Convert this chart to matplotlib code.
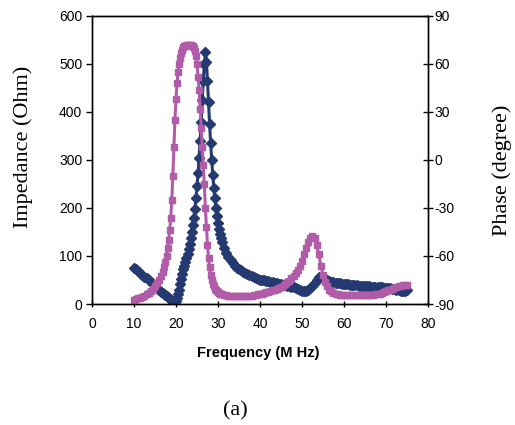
import matplotlib
matplotlib.use("Agg")
import matplotlib.pyplot as plt
import numpy as np

# Frequency points (MHz): coarse on flat parts, finer around the resonances.
freq = [10.0, 10.5, 11.0, 11.5, 12.0, 12.5, 13.0, 13.5, 14.0, 14.5, 15.0,
	15.5, 16.0, 16.5, 17.0,
	17.25, 17.5, 17.75, 18.0, 18.25, 18.5, 18.75, 19.0, 19.25, 19.5, 19.75,
	20.0, 20.25, 20.5, 20.75, 21.0, 21.25, 21.5, 21.75, 22.0, 22.25, 22.5,
	22.75, 23.0, 23.25, 23.5, 23.75, 24.0, 24.25, 24.5, 24.75, 25.0, 25.25,
	25.5, 25.75, 26.0, 26.25, 26.5, 26.75, 27.0, 27.25, 27.5, 27.75, 28.0,
	28.25, 28.5, 28.75, 29.0, 29.25, 29.5, 29.75, 30.0, 30.25, 30.5, 30.75,
	31.0,
	31.5, 32.0, 32.5, 33.0, 33.5, 34.0, 34.5, 35.0, 35.5, 36.0, 36.5, 37.0,
	37.5, 38.0, 38.5, 39.0, 39.5, 40.0, 40.5, 41.0, 41.5, 42.0, 42.5, 43.0,
	43.5, 44.0, 44.5, 45.0, 45.5, 46.0, 46.5, 47.0, 47.5, 48.0, 48.5, 49.0,
	49.5, 50.0, 50.5, 51.0, 51.5, 52.0, 52.5, 53.0, 53.5, 54.0, 54.5, 55.0,
	55.5, 56.0, 56.5, 57.0, 57.5, 58.0, 58.5, 59.0, 59.5, 60.0, 60.5, 61.0,
	61.5, 62.0, 62.5, 63.0, 63.5, 64.0, 64.5, 65.0, 65.5, 66.0, 66.5, 67.0,
	67.5, 68.0, 68.5, 69.0, 69.5, 70.0, 70.5, 71.0, 71.5, 72.0, 72.5, 73.0,
	73.5, 74.0, 74.5, 75.0]

# Impedance magnitude (Ohm).
impedance = [76, 72, 68, 65, 61, 57, 54, 50, 46, 42, 38,
	34, 30, 26, 22,
	20, 18, 16, 14, 12, 10, 9, 7, 6, 5, 5,
	7, 12, 20, 30, 42, 52, 62, 72, 80, 88, 96,
	105, 115, 126, 138, 150, 165, 180, 198, 220, 245, 272,
	305, 340, 380, 425, 465, 500, 524, 505, 465, 420, 375,
	335, 300, 268, 242, 220, 200, 183, 168, 156, 146, 137,
	129,
	117, 106, 98, 91, 85, 80, 76, 73, 70, 67, 64, 62,
	60, 58, 56, 54, 52, 51, 50, 49, 48, 47, 46, 45,
	44, 43, 42, 41, 40, 39, 38, 37, 36, 35, 33, 31,
	30, 28, 27, 27, 29, 33, 38, 44, 51, 56, 57, 54,
	51, 49, 47, 46, 45, 44, 44, 43, 42, 42, 41, 41,
	40, 40, 39, 39, 38, 38, 38, 37, 37, 37, 36, 36,
	36, 35, 35, 35, 34, 34, 33, 33, 32, 31, 30, 29,
	28, 27, 28, 30]

# Phase (degree).
phase = [-87.5, -87, -86.5, -86, -85.5, -85, -84, -83, -82, -80.5, -79,
	-77, -75, -72.5, -70,
	-67, -64, -60, -55, -50, -44, -36, -25, -10, 8, 25,
	38, 48, 55, 60, 64, 67, 69, 70.5, 71, 71.5, 72,
	72, 72, 72, 72, 71.5, 71, 70, 68, 65, 60, 52,
	44, 32, 20, 8, -3, -15, -30, -42, -53, -61, -67,
	-72, -75, -77.5, -79, -80.5, -81.5, -82, -82.5, -83, -83.5, -84,
	-84,
	-84.5, -84.5, -85, -85, -85, -85, -85, -85, -85, -85, -85, -85,
	-85, -85, -84.5, -84.5, -84, -84, -83.5, -83, -82.5, -82.5, -82, -81.5,
	-81, -80.5, -80, -79.5, -78.5, -77.5, -76.5, -75.5, -74, -72.5, -70.5, -68.5,
	-66, -63, -59, -55, -51, -48.5, -47.5, -49, -53, -59, -66, -72,
	-76, -79, -81, -82, -83, -83.5, -84, -84.5, -84.5, -84.5, -84.5, -84.5,
	-84.5, -84.5, -84.5, -84.5, -84.5, -84.5, -84.5, -84.5, -84.5, -84.5, -84.5, -84.5,
	-84, -84, -83.5, -83, -82.5, -82, -81.5, -81, -80.5, -80, -79.5, -79,
	-78.5, -78, -78, -78]

x_ticks = [0, 10, 20, 30, 40, 50, 60, 70, 80]
z_ticks = [0, 100, 200, 300, 400, 500, 600]
phase_ticks = [-90, -60, -30, 0, 30, 60, 90]

blue = "#243a70"
pink = "#b05ca8"
sans = "Liberation Sans"
serif = "Liberation Serif"

# Plain hyphen for negative tick labels, as in the reference.
plt.rcParams["axes.unicode_minus"] = False

# Figure and main axes placed to match the reference layout.
fig = plt.figure(figsize=(5.15, 4.25), dpi=100)
ax = fig.add_axes([0.1786, 0.2847, 0.6524, 0.6777])
ax2 = ax.twinx()

# Impedance on the left axis.
ax.plot(freq, impedance, color=blue, linewidth=2.2, marker="D",
	markersize=5.2, markerfacecolor=blue, markeredgecolor=blue, zorder=2)
ax.set_xlim(0, 80)
ax.set_ylim(0, 600)
ax.set_xticks(x_ticks)
ax.set_yticks(z_ticks)

# Phase on the right axis.
ax2.plot(freq, phase, color=pink, linewidth=2.2, marker="s",
	markersize=4.8, markerfacecolor=pink, markeredgecolor=pink, zorder=2)
ax2.set_ylim(-90, 90)
ax2.set_yticks(phase_ticks)

# Spines and ticks.
for a in (ax, ax2):
	for s in a.spines.values():
		s.set_linewidth(1.0)
		s.set_color("black")
ax.tick_params(axis="y", direction="out", length=4, width=1, pad=3,
	labelsize=10)
ax.tick_params(axis="x", direction="inout", length=5, width=1, pad=7,
	labelsize=10)
ax2.tick_params(axis="y", direction="inout", length=7, width=1, pad=1,
	labelsize=10)
for lab in ax.get_xticklabels() + ax.get_yticklabels() + \
		ax2.get_yticklabels():
	lab.set_fontfamily(sans)

# Axis titles and caption.
fig.text(23 / 515, 1 - 147 / 425, "Impedance (Ohm)", rotation=90,
	ha="center", va="center", fontsize=16, fontfamily=serif)
fig.text(502 / 515, 1 - 170 / 425, "Phase (degree)", rotation=90,
	ha="center", va="center", fontsize=16, fontfamily=serif)
fig.text(258 / 515, 1 - 353 / 425, "Frequency (M Hz)", ha="center",
	va="center", fontsize=10.5, fontweight="bold", fontfamily=sans)
fig.text(235 / 515, 1 - 411 / 425, "(a)", ha="center", va="center",
	fontsize=16, fontfamily=serif)

fig.savefig("out.png", dpi=100)
plt.close("all")
